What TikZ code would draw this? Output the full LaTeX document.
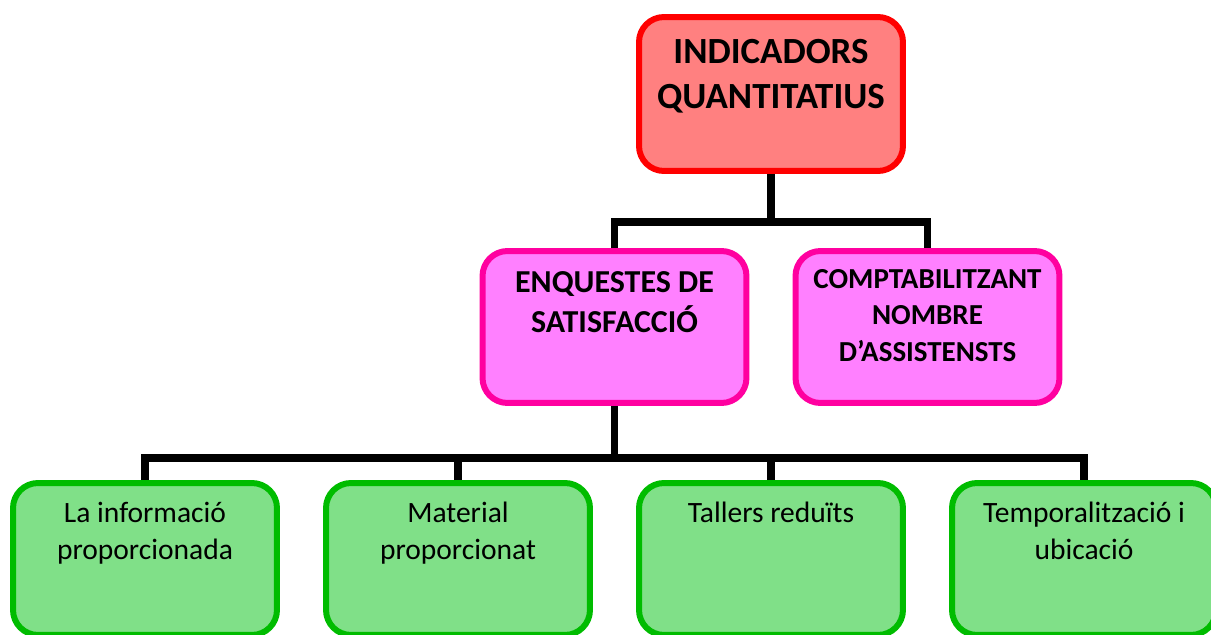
\documentclass[tikz,border=0pt]{standalone}
\usepackage{fontspec}
\setmainfont{Carlito}
\usetikzlibrary{calc,positioning}
\definecolor{topline}{RGB}{255,0,0}
\definecolor{topfill}{RGB}{255,128,128}
\definecolor{midline}{RGB}{255,0,160}
\definecolor{midfill}{RGB}{255,128,255}
\definecolor{lowline}{RGB}{0,188,0}
\definecolor{lowfill}{RGB}{128,224,136}
\tikzset{
    block/.style = {draw, rectangle, rounded corners=0.5cm, line width=0.12cm,
        minimum width=5.28cm, minimum height=3.08cm, inner sep=0pt},
    topblock/.style = {block, draw=topline, fill=topfill},
    midblock/.style = {block, draw=midline, fill=midfill, minimum height=3.04cm},
    lowblock/.style = {block, draw=lowline, fill=lowfill, minimum height=3.04cm},
    boxtext/.style = {anchor=base, align=center, inner sep=0pt},
    toptext/.style = {boxtext, font=\fontsize{21pt}{25.5pt}\selectfont\bfseries},
    midtext/.style = {boxtext, font=\fontsize{18.2pt}{22.7pt}\selectfont\bfseries},
    cnttext/.style = {boxtext, font=\fontsize{16.5pt}{20.7pt}\selectfont\bfseries},
    lowtext/.style = {boxtext, font=\fontsize{16.8pt}{21pt}\selectfont},
    wire/.style = {draw, line width=0.15cm}
}

\begin{document}
\begin{tikzpicture}[x=0.02cm, y=-0.02cm]
    \useasboundingbox (0,0) rectangle (1211,635);
    \node [topblock] (indic) at (771,94) {};
    \node [midblock] (enq) at (614.5,327) {};
    \node [midblock] (compt) at (927.5,327) {};
    \foreach \a/\x in {1/145,2/458,3/771,4/1084}{
        \node [lowblock] (item\a) at (\x,559) {};
    }
    \node [toptext] (indictxt) at ($(indic.north)+(0,94)$) {INDICADORS\\QUANTITATIUS};
    \node [midtext] (enqtxt) at ($(enq.north)+(0,84)$) {ENQUESTES DE\\SATISFACCIÓ};
    \node [cnttext] (compttxt) at ($(compt.north)+(0,113)$) {COMPTABILITZANT\\NOMBRE\\D’ASSISTENSTS};
    \foreach \a/\d/\t in {1/79/{La informació\\proporcionada},2/79/{Material\\proporcionat},3/42/{Tallers reduïts},4/79/{Temporalització i\\ubicació}}{
        \node [lowtext] (itemtxt\a) at ($(item\a.north)+(0,\d)$) {\t};
    }
    \coordinate (bus1) at (771,222);
    \coordinate (bus2) at (615,458);
    \draw [wire] (indic) -- (bus1);
    \draw [wire] (enq.north) |- (bus1) -| (compt.north);
    \draw [wire] (enq.south) -- (enq.south |- bus2);
    \draw [wire] (item1.north) |- (bus2) -| (item4.north);
    \foreach \a in {2,3}
        \draw [wire] (item\a.north) -- (item\a.north |- bus2);
\end{tikzpicture}
\end{document}
